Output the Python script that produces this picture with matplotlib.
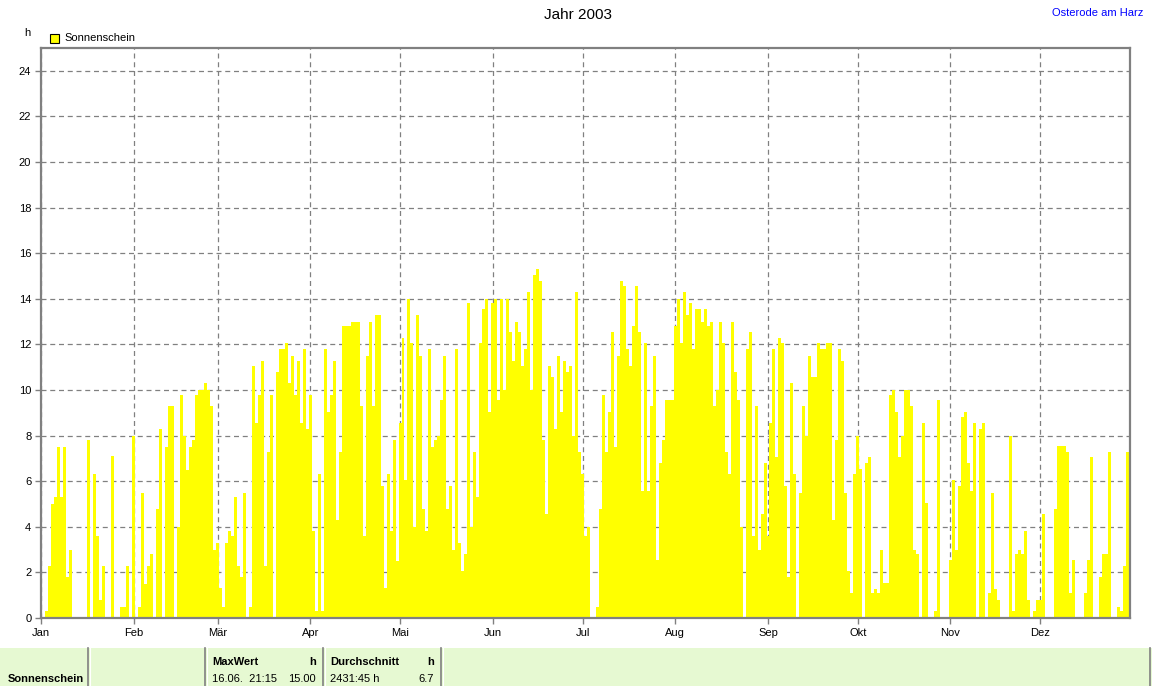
import matplotlib
matplotlib.use('Agg')
import matplotlib.pyplot as plt
from matplotlib.patches import Rectangle
from matplotlib.lines import Line2D

plt.rcParams['font.family'] = ['Liberation Sans', 'DejaVu Sans']

# Sonnenscheindauer pro Tag (h), 2003
jan = [0, 0.05, 0.3, 2.3, 5.0, 5.3, 7.5, 5.3, 7.5, 1.8, 3.0, 0.05, 0.05, 0.05, 0.05, 0.05,
       7.8, 0.05, 6.3, 3.6, 0.8, 2.3, 0.05, 0.05, 7.1, 0.05, 0.05, 0.5, 0.5, 2.3, 0.05]
feb = [8.0, 0.05, 0.5, 5.5, 1.5, 2.3, 2.8, 0.05, 4.8, 8.3, 0.05, 7.5, 9.3, 9.3, 0.05, 4.0,
       9.8, 8.0, 6.5, 7.5, 7.8, 9.8, 10.0, 10.0, 10.3, 10.0, 9.3, 3.0]
mar = [3.3, 1.3, 0.5, 3.3, 3.8, 3.6, 5.3, 2.3, 1.8, 5.5, 0.05, 0.5, 11.05, 8.55, 9.77, 11.27,
       2.3, 7.3, 9.8, 0.05, 10.8, 11.8, 11.8, 12.06, 10.3, 11.5, 9.8, 11.27, 8.55, 11.8, 8.3]
apr = [9.8, 3.8, 0.3, 6.3, 0.3, 11.8, 9.05, 9.8, 11.27, 4.3, 7.3, 12.8, 12.8, 12.8, 13.0,
       13.0, 13.0, 9.3, 3.6, 11.5, 13.0, 9.3, 13.3, 13.3, 5.8, 1.3, 6.3, 3.8, 7.8, 2.5]
mai = [8.55, 12.3, 6.05, 14.0, 12.05, 4.0, 13.3, 11.5, 4.8, 3.8, 11.8, 7.5, 7.8, 8.0, 9.55,
       11.5, 4.8, 5.8, 3.0, 11.8, 3.3, 2.05, 2.8, 13.8, 4.0, 7.3, 5.3, 12.05, 13.55, 14.0, 9.05]
jun = [13.8, 14.0, 9.55, 14.0, 10.0, 14.0, 12.55, 11.27, 13.0, 12.55, 11.05, 11.8, 14.3,
       10.0, 15.04, 15.3, 14.8, 7.8, 4.55, 11.05, 10.55, 8.3, 11.5, 9.05, 11.27, 10.8, 11.05,
       8.0, 14.3, 7.3]
jul = [6.3, 3.6, 4.0, 0.05, 0.05, 0.5, 4.8, 9.8, 7.3, 9.05, 12.55, 7.5, 11.5, 14.8, 14.55,
       11.8, 11.05, 12.8, 14.55, 12.55, 5.55, 12.05, 5.55, 9.3, 11.5, 2.55, 6.8, 7.8, 9.55,
       9.55, 9.55]
aug = [12.8, 14.0, 12.05, 14.3, 13.3, 13.8, 11.8, 13.55, 13.55, 13.0, 13.55, 12.8, 13.0, 9.3,
       10.0, 13.0, 12.05, 7.3, 6.3, 13.0, 10.8, 9.55, 4.0, 0.05, 11.8, 12.55, 3.6, 9.3, 3.0,
       4.55, 6.8]
sep = [3.6, 8.55, 11.8, 7.05, 12.3, 12.05, 5.8, 1.8, 10.3, 6.3, 0.05, 5.5, 9.3, 8.0, 11.5,
       10.55, 10.55, 12.05, 11.8, 11.8, 12.05, 12.05, 4.3, 7.8, 11.8, 11.27, 5.5, 2.05, 1.08, 6.3]
okt = [8.0, 6.55, 0.05, 6.8, 7.05, 1.08, 1.26, 1.08, 3.0, 1.55, 1.55, 9.77, 10.0, 9.05, 7.05,
       8.0, 10.0, 10.0, 9.3, 3.0, 2.8, 0.05, 8.55, 5.05, 0.05, 0.05, 0.3, 9.55, 0.05, 0.05, 0.05]
nov = [2.55, 6.05, 3.0, 5.8, 8.8, 9.05, 6.8, 5.55, 8.55, 0.05, 8.3, 8.55, 0.05, 1.08, 5.5,
       1.26, 0.8, 0.05, 0.05, 0.05, 8.0, 0.3, 2.8, 3.0, 2.8, 3.8, 0.8, 0.05, 0.3, 0.8]
dez = [0.8, 4.55, 0.05, 0.05, 0.05, 4.8, 7.55, 7.55, 7.55, 7.3, 1.08, 2.55, 0.05, 0.05, 0.05,
       1.08, 2.55, 7.05, 0.05, 0.05, 1.8, 2.8, 2.8, 7.3, 0.05, 0.05, 0.5, 0.3, 2.3, 7.3, 0]

sunshine = jan + feb + mar + apr + mai + jun + jul + aug + sep + okt + nov + dez
days = list(range(len(sunshine)))

month_labels = ['Jan', 'Feb', 'Mär', 'Apr', 'Mai', 'Jun', 'Jul', 'Aug', 'Sep', 'Okt', 'Nov', 'Dez']
month_start = [0, 31, 59, 90, 120, 151, 181, 212, 243, 273, 304, 334]
y_ticks = list(range(0, 25, 2))

W, H = 1152, 686
fig = plt.figure(figsize=(W / 100, H / 100), dpi=100)
ax = fig.add_axes([41 / W, 1 - 618 / H, (1130 - 41) / W, (618 - 48) / H])

ax.bar(days, sunshine, width=1.0, color='#FFFF00', linewidth=0, zorder=2)
ax.set_xlim(0, 364)
ax.set_ylim(0, 25)

ax.set_xticks(month_start)
ax.set_xticklabels(month_labels, fontsize=8)
ax.set_yticks(y_ticks)
ax.set_yticklabels([str(v) for v in y_ticks], fontsize=8)
ax.tick_params(axis='both', direction='out', length=4, width=1, color='#808080', pad=3)

ax.grid(True, color='#808080', linestyle=(0, (4, 3)), linewidth=0.9, zorder=1)
ax.set_axisbelow(True)
for side in ['left', 'right', 'top', 'bottom']:
    ax.spines[side].set_color('#808080')
    ax.spines[side].set_linewidth(1.6)

# Kopfzeile
fig.text(578 / W, 1 - 15 / H, 'Jahr 2003', ha='center', va='center', fontsize=11)
fig.text(1143 / W, 1 - 13 / H, 'Osterode am Harz', ha='right', va='center',
         fontsize=8, color='#0000FF')
fig.text(27 / W, 1 - 33 / H, 'h', ha='center', va='center', fontsize=8)
fig.patches.append(Rectangle((50 / W, 1 - 43 / H), 9 / W, 9 / H, transform=fig.transFigure,
                             facecolor='#FFFF00', edgecolor='black', linewidth=0.8))
fig.text(64 / W, 1 - 38 / H, 'Sonnenschein', ha='left', va='center', fontsize=8)

# Tabelle unten
fig.patches.append(Rectangle((0, 0), 1, 38 / H, transform=fig.transFigure,
                             facecolor='#E6F9D2', edgecolor='none'))
for xs in [88, 205, 323, 441]:
    fig.lines.append(Line2D([xs / W, xs / W], [0, 38 / H], transform=fig.transFigure,
                            color='#808080', linewidth=1.2))
    fig.lines.append(Line2D([(xs + 1.5) / W, (xs + 1.5) / W], [0, 38 / H],
                            transform=fig.transFigure, color='white', linewidth=0.8))
fig.lines.append(Line2D([1150 / W, 1150 / W], [0, 38 / H], transform=fig.transFigure,
                        color='#808080', linewidth=1.2))

fig.text(8 / W, 1 - 679 / H, 'Sonnenschein', ha='left', va='center', fontsize=8,
         fontweight='bold')
fig.text(212 / W, 1 - 662 / H, 'MaxWert', ha='left', va='center', fontsize=8, fontweight='bold')
fig.text(316 / W, 1 - 662 / H, 'h', ha='right', va='center', fontsize=8, fontweight='bold')
fig.text(212 / W, 1 - 679 / H, '16.06.  21:15', ha='left', va='center', fontsize=8)
fig.text(316 / W, 1 - 679 / H, '15.00', ha='right', va='center', fontsize=8)
fig.text(330 / W, 1 - 662 / H, 'Durchschnitt', ha='left', va='center', fontsize=8,
         fontweight='bold')
fig.text(434 / W, 1 - 662 / H, 'h', ha='right', va='center', fontsize=8, fontweight='bold')
fig.text(330 / W, 1 - 679 / H, '2431:45 h', ha='left', va='center', fontsize=8)
fig.text(434 / W, 1 - 679 / H, '6.7', ha='right', va='center', fontsize=8)

fig.savefig('out.png', dpi=100)
